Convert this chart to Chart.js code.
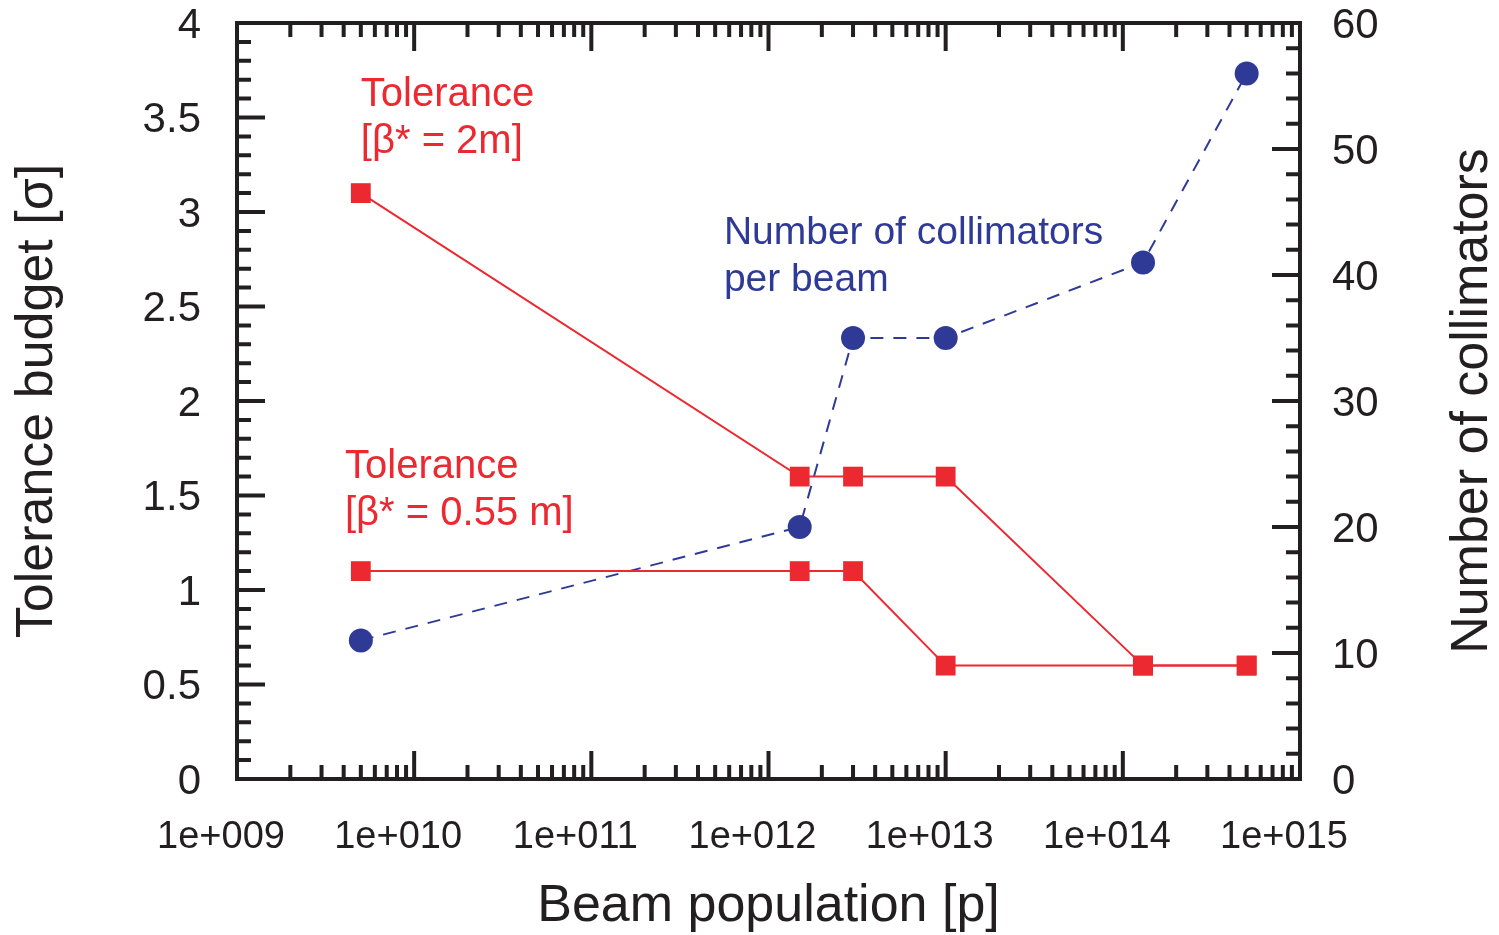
<!DOCTYPE html>
<html>
<head>
<meta charset="utf-8">
<script src="https://cdn.jsdelivr.net/npm/chart.js@4.4.1/dist/chart.umd.min.js"></script>
<style>
  html, body { margin: 0; padding: 0; background: #fff; }
  #wrap { width: 1499px; height: 935px; }
</style>
</head>
<body>
<div id="wrap"><canvas id="grafico" width="1499" height="935"></canvas></div>
<script>
// beam population for every measured point
const beamPopulation = [5e9, 1.5e12, 3e12, 1e13, 1.3e14, 5e14]
// tolerance budget [sigma], left axis
const tolerance2m = [3.1, 1.6, 1.6, 1.6, 0.6, 0.6]
const tolerance055m = [1.1, 1.1, 1.1, 0.6, 0.6, 0.6]
// number of collimators per beam, right axis
const collimators = [11, 20, 35, 35, 41, 56]

const xTickValues = [1e9, 1e10, 1e11, 1e12, 1e13, 1e14, 1e15]
const xTickLabels = ['1e+009', '1e+010', '1e+011', '1e+012', '1e+013', '1e+014', '1e+015']
const yLeftTicks = [0, 0.5, 1, 1.5, 2, 2.5, 3, 3.5, 4]
const yLeftLabels = ['0', '0.5', '1', '1.5', '2', '2.5', '3', '3.5', '4']
const yRightTicks = [0, 10, 20, 30, 40, 50, 60]
const yRightLabels = ['0', '10', '20', '30', '40', '50', '60']

const RED = '#EC2830'
const BLUE = '#2F3A97'
const INK = '#231F20'
const FONT = "'Liberation Sans', Arial, Helvetica, sans-serif"

// text notes, anchored in data coordinates (x, left-axis y of first baseline)
const notes = [
    { lines: ['Tolerance', '[\u03B2* = 2m]'], x: 5e9, y: 3.56, color: RED, size: 40 },
    { lines: ['Tolerance', '[\u03B2* = 0.55 m]'], x: 4.07e9, y: 1.59, color: RED, size: 40 },
    { lines: ['Number of collimators', 'per beam'], x: 5.6e11, y: 2.83, color: BLUE, size: 39 }
]

function pontos(ys) {
    return beamPopulation.map(function (x, i) { return { x: x, y: ys[i] } })
}

function semPadding(s) {
    s.paddingTop = 0
    s.paddingBottom = 0
    s.paddingLeft = 0
    s.paddingRight = 0
}

const framePlugin = {
    id: 'frame',
    afterDraw(chart) {
        const ctx = chart.ctx
        const a = chart.chartArea
        const sx = chart.scales.x, sy = chart.scales.y, sy2 = chart.scales.y2
        const big = 28, small = 14
        ctx.save()
        ctx.strokeStyle = INK
        ctx.lineWidth = 4
        ctx.lineCap = 'butt'
        ctx.beginPath()

        // top / bottom log ticks
        for (let e = 9; e <= 15; e++) {
            for (let m = 1; m <= 9; m++) {
                const v = m * Math.pow(10, e)
                if (v > 1e15) break
                const px = sx.getPixelForValue(v)
                const len = m === 1 ? big : small
                ctx.moveTo(px, a.bottom); ctx.lineTo(px, a.bottom - len)
                ctx.moveTo(px, a.top); ctx.lineTo(px, a.top + len)
            }
        }
        // left ticks, every 0.1
        for (let i = 0; i <= 40; i++) {
            const py = sy.getPixelForValue(i / 10)
            const len = i % 5 === 0 ? big : small
            ctx.moveTo(a.left, py); ctx.lineTo(a.left + len, py)
        }
        // right ticks, every 2
        for (let i = 0; i <= 30; i++) {
            const py = sy2.getPixelForValue(i * 2)
            const len = i % 5 === 0 ? big : small
            ctx.moveTo(a.right, py); ctx.lineTo(a.right - len, py)
        }
        ctx.stroke()
        ctx.strokeRect(a.left, a.top, a.right - a.left, a.bottom - a.top)

        // right axis title, reads bottom to top like the left one
        ctx.save()
        ctx.translate(1473, (a.top + a.bottom) / 2)
        ctx.rotate(-Math.PI / 2)
        ctx.font = '52px ' + FONT
        ctx.fillStyle = INK
        ctx.textAlign = 'center'
        ctx.textBaseline = 'middle'
        ctx.fillText('Number of collimators', 0, 0)
        ctx.restore()

        // notes
        ctx.textAlign = 'left'
        ctx.textBaseline = 'alphabetic'
        notes.forEach(function (n) {
            ctx.font = n.size + 'px ' + FONT
            ctx.fillStyle = n.color
            const px = sx.getPixelForValue(n.x)
            const py = sy.getPixelForValue(n.y)
            n.lines.forEach(function (t, k) { ctx.fillText(t, px, py + k * 47) })
        })
        ctx.restore()
    }
}

new Chart(document.getElementById('grafico').getContext('2d'), {
    type: 'line',
    data: {
        datasets: [{
            label: 'Tolerance [β* = 2m]',
            data: pontos(tolerance2m),
            borderColor: RED,
            backgroundColor: RED,
            borderWidth: 2,
            pointStyle: 'rect',
            pointRadius: 14,
            pointBorderWidth: 0,
            yAxisID: 'y'
        }, {
            label: 'Tolerance [β* = 0.55 m]',
            data: pontos(tolerance055m),
            borderColor: RED,
            backgroundColor: RED,
            borderWidth: 2,
            pointStyle: 'rect',
            pointRadius: 14,
            pointBorderWidth: 0,
            yAxisID: 'y'
        }, {
            label: 'Number of collimators per beam',
            data: pontos(collimators),
            borderColor: BLUE,
            backgroundColor: BLUE,
            borderWidth: 2,
            borderDash: [13, 10],
            pointStyle: 'circle',
            pointRadius: 12,
            pointBorderWidth: 0,
            yAxisID: 'y2'
        }]
    },
    options: {
        responsive: false,
        animation: false,
        layout: { padding: { top: 23, left: 0, right: 0, bottom: 0 } },
        plugins: { legend: { display: false }, tooltip: { enabled: false } },
        scales: {
            x: {
                type: 'logarithmic',
                min: 1e9,
                max: 1e15,
                afterBuildTicks: function (s) { s.ticks = xTickValues.map(function (v) { return { value: v } }) },
                afterFit: function (s) { s.height = 156; semPadding(s) },
                grid: { display: false, drawTicks: false },
                border: { display: false },
                ticks: {
                    autoSkip: false,
                    maxRotation: 0,
                    padding: 36,
                    labelOffset: -16,
                    color: INK,
                    font: { size: 38, family: FONT },
                    callback: function (v, i) { return xTickLabels[i] }
                },
                title: {
                    display: true,
                    text: 'Beam population [p]',
                    color: INK,
                    font: { size: 52, family: FONT, lineHeight: 1 },
                    padding: { top: 0, bottom: 2 }
                }
            },
            y: {
                position: 'left',
                min: 0,
                max: 4,
                afterBuildTicks: function (s) { s.ticks = yLeftTicks.map(function (v) { return { value: v } }) },
                afterFit: function (s) { s.width = 237; semPadding(s) },
                grid: { display: false, drawTicks: false },
                border: { display: false },
                ticks: {
                    padding: 36,
                    labelOffset: 3,
                    color: INK,
                    font: { size: 42, family: FONT },
                    callback: function (v, i) { return yLeftLabels[i] }
                },
                title: {
                    display: true,
                    text: 'Tolerance budget [\u03C3]',
                    color: INK,
                    font: { size: 52, family: FONT, lineHeight: 1 },
                    padding: { top: 12, bottom: 0 }
                }
            },
            y2: {
                position: 'right',
                min: 0,
                max: 60,
                afterBuildTicks: function (s) { s.ticks = yRightTicks.map(function (v) { return { value: v } }) },
                afterFit: function (s) { s.width = 199; semPadding(s) },
                grid: { display: false, drawTicks: false },
                border: { display: false },
                ticks: {
                    padding: 32,
                    labelOffset: 3,
                    color: INK,
                    font: { size: 42, family: FONT },
                    callback: function (v, i) { return yRightLabels[i] }
                },
                title: { display: false }
            }
        }
    },
    plugins: [framePlugin]
})
</script>
</body>
</html>
